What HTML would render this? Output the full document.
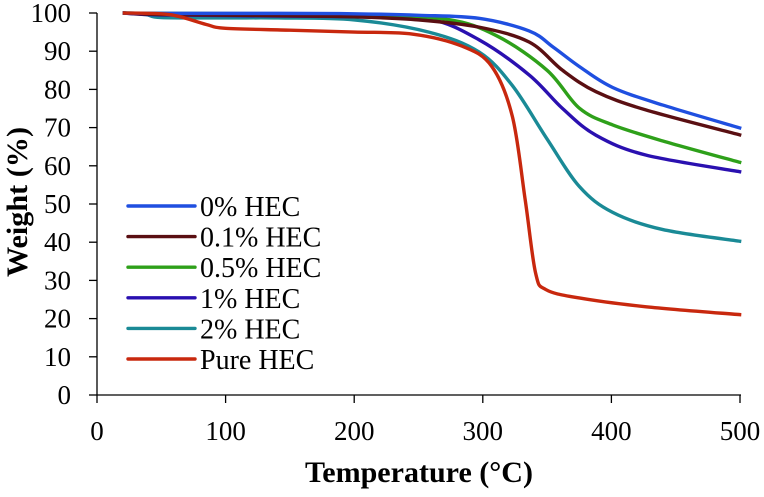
<!DOCTYPE html>
<html><head><meta charset="utf-8"><style>
body{margin:0;background:#fff}
svg text{font-family:"Liberation Serif",serif}
</style></head><body>
<svg id="chart" width="764" height="492" viewBox="0 0 764 492" xmlns="http://www.w3.org/2000/svg">
<g id="axes"></g><g id="series"></g><g id="legend"></g>
<text x="419" y="482" text-anchor="middle" font-size="30" font-weight="bold" textLength="228" lengthAdjust="spacingAndGlyphs">Temperature (°C)</text>
<text transform="translate(27,202) rotate(-90)" text-anchor="middle" font-size="30" font-weight="bold" textLength="150" lengthAdjust="spacingAndGlyphs">Weight (%)</text>
</svg>
<script>
const xTicks=[0,100,200,300,400,500];
const yTicks=[0,10,20,30,40,50,60,70,80,90,100];
const seriesNames=["0% HEC","0.1% HEC","0.5% HEC","1% HEC","2% HEC","Pure HEC"];
const seriesColors=["#1f4fe0","#5a0f12","#2ea01a","#2a10b0","#1a8a96","#c8280e"];
const tempsBlue=[20,50,141,200,250,297,336,355,375,401,440,501];
const wBlue=[100,99.9,99.9,99.8,99.4,98.6,95.3,91,86,80.5,75.9,69.8];
const tempsMaroon=[20,50,141,200,250,297,336,362,388,427,501];
const wMaroon=[100,99.6,99.3,99,98.2,96.3,92.4,85,79.4,74.6,68];
const tempsGreen=[20,50,141,200,271,311,350,375,401,440,501];
const wGreen=[100,99.9,99.8,99.6,98.4,94,85,75.1,70.7,66.5,60.8];
const tempsDkBlue=[20,50,141,200,258,297,336,362,388,427,501];
const wDkBlue=[100,99.5,99.2,99,98.4,93,83.8,75,68,62.8,58.4];
const tempsTeal=[20,38,50,100,141,200,258,297,323,350,375,401,440,501];
const wTeal=[100,99.6,98.8,98.7,98.7,98.2,95,89.8,81,67,54.6,47.8,43.3,40.2];
const tempsRed=[20,50,65,85,100,150,200,245,284,307,323,333,341,349,375,427,501];
const wRed=[100,99.8,99,97,96,95.5,95,94.5,91.3,86,72.9,51,32,27.6,25.4,23.1,21];
const allTemps=[tempsBlue,tempsMaroon,tempsGreen,tempsDkBlue,tempsTeal,tempsRed];
const allW=[wBlue,wMaroon,wGreen,wDkBlue,wTeal,wRed];
const X=t=>97+t*(643/500), Y=w=>395-w*3.82;
const NS="http://www.w3.org/2000/svg";
function mk(tag,attrs,parent){const e=document.createElementNS(NS,tag);for(const k in attrs)e.setAttribute(k,attrs[k]);parent.appendChild(e);return e;}
const axes=document.getElementById('axes');
let a=mk('line',{x1:97,y1:13,x2:97,y2:395,stroke:'#000','stroke-width':1.3},axes);


a=mk('line',{x1:97,y1:395,x2:741,y2:395,stroke:'#000','stroke-width':1.3},axes);


yTicks.forEach(v=>{
 const l=mk('line',{x1:89,y1:Y(v),x2:97,y2:Y(v),stroke:'#000','stroke-width':1.3},axes);
 
 
 const t=mk('text',{x:71,y:Y(v)+9,'text-anchor':'end','font-size':27},axes);t.textContent=v;
 
 
});
xTicks.forEach(v=>{
 const l=mk('line',{x1:X(v),y1:395,x2:X(v),y2:403,stroke:'#000','stroke-width':1.3},axes);
 
 
 const t=mk('text',{x:X(v),y:440,'text-anchor':'middle','font-size':27},axes);t.textContent=v;
 
 
});
function smooth(pts){let d=`M${pts[0][0]},${pts[0][1]}`;for(let i=0;i<pts.length-1;i++){const p0=pts[i-1]||pts[i],p1=pts[i],p2=pts[i+1],p3=pts[i+2]||p2;
 d+=` C${p1[0]+(p2[0]-p0[0])/6},${p1[1]+(p2[1]-p0[1])/6} ${p2[0]-(p3[0]-p1[0])/6},${p2[1]-(p3[1]-p1[1])/6} ${p2[0]},${p2[1]}`;}return d;}
const sg=document.getElementById('series'),lg=document.getElementById('legend');
[4,3,2,1,0,5].forEach(i=>{
 const pts=allTemps[i].map((t,j)=>[X(t),Y(allW[i][j])]);
 const p=mk('path',{d:smooth(pts),fill:'none',stroke:seriesColors[i],'stroke-width':3.4,'stroke-linejoin':'round'},sg);
 
 
});
seriesNames.forEach((n,i)=>{
 const y=206+i*30.6;
 const l=mk('line',{x1:128,y1:y,x2:195,y2:y,stroke:seriesColors[i],'stroke-width':3.4,'stroke-linecap':'round'},lg);
 
 
 const t=mk('text',{x:200,y:y+10,'font-size':28},lg);t.textContent=n;
 
 
});
</script>
</body></html>
